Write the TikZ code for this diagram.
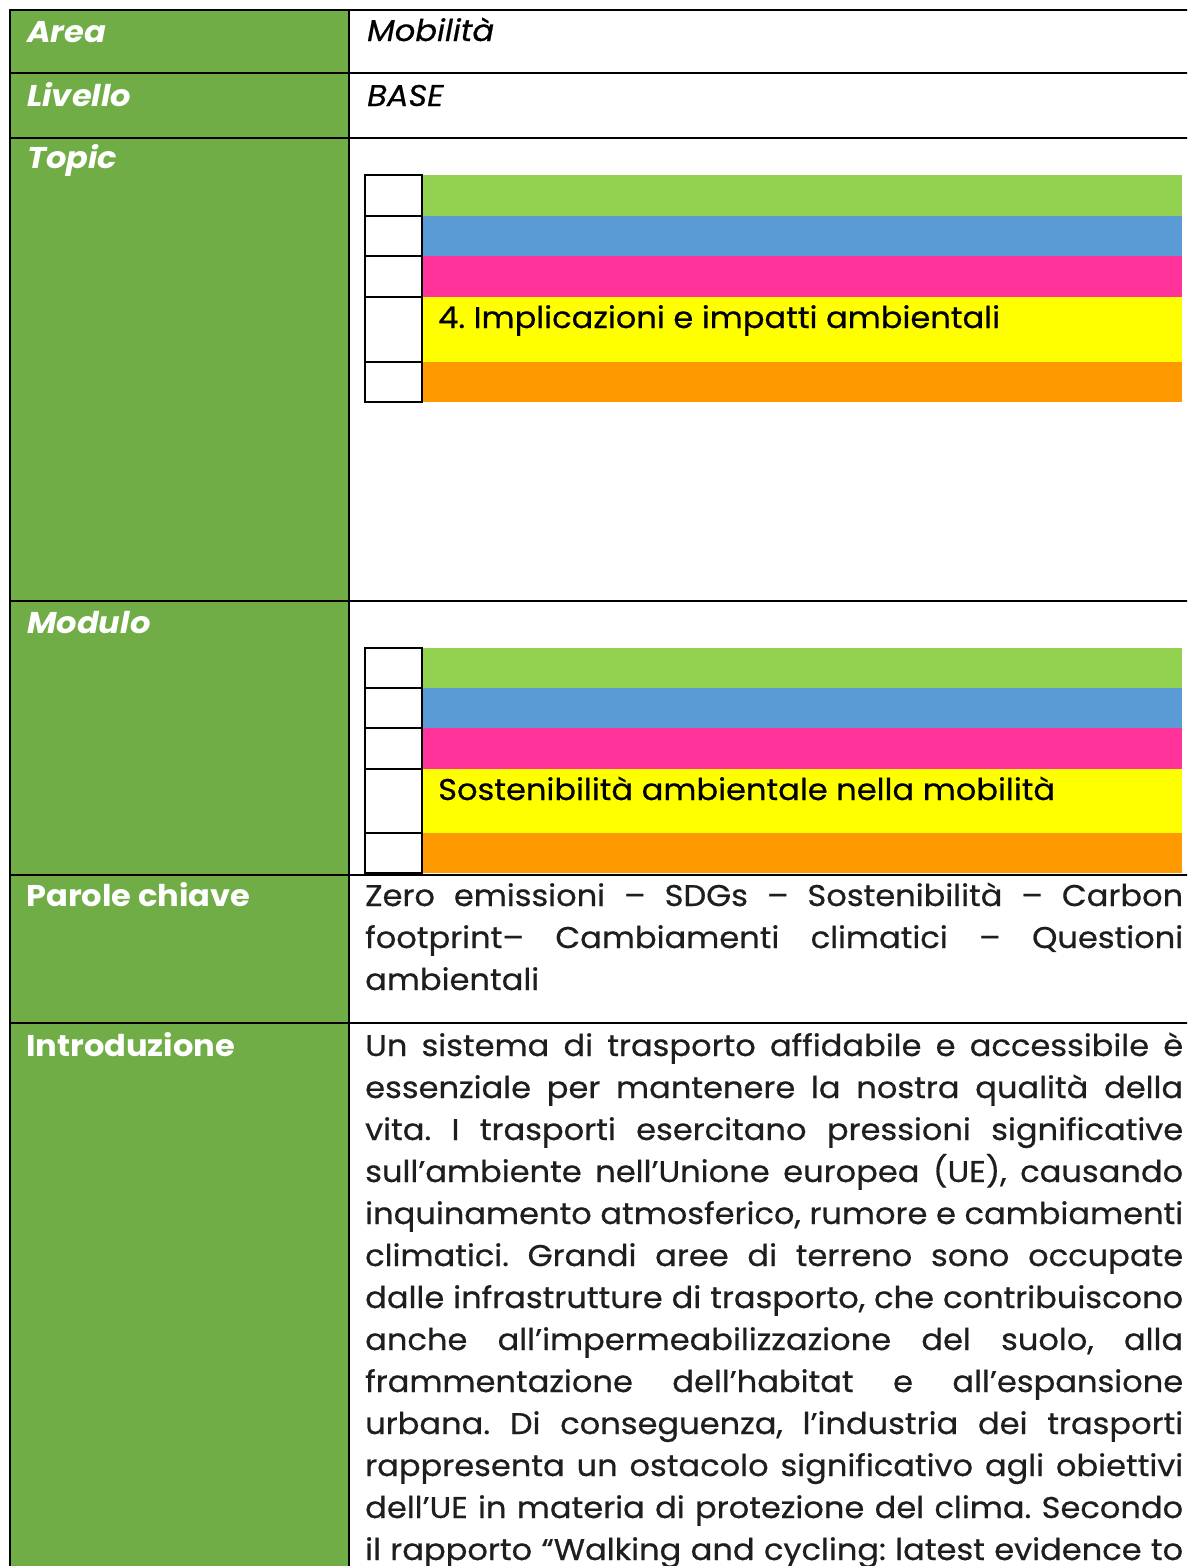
\documentclass[tikz,border=0pt]{standalone}
\usepackage{fontspec}
\setmainfont{Poppins}[FakeStretch=1.07]
\newfontfamily\bodyfont{Poppins}[FakeStretch=1.07, FakeBold=0.6]
\frenchspacing
\definecolor{cellgreen}{HTML}{70AD47}
\definecolor{barGreen}{HTML}{92D050}
\definecolor{barBlue}{HTML}{5B9BD5}
\definecolor{barPink}{HTML}{FF3399}
\definecolor{barYellow}{HTML}{FFFF00}
\definecolor{barOrange}{HTML}{FF9900}
\definecolor{bodytext}{HTML}{1E1E1E}
\tikzset{
  gridline/.style={line width=2pt, black},
  boxline/.style={line width=1.6pt, black},
  label/.style={anchor=base west, inner sep=0pt, text=white, font=\fontsize{30}{42}\selectfont\bfseries},
  ilabel/.style={label, font=\fontsize{30}{42}\selectfont\bfseries\itshape},
  ival/.style={anchor=base west, inner sep=0pt, text=black, font=\fontsize{30}{42}\selectfont\bodyfont\itshape},
  bartext/.style={anchor=base west, inner sep=0pt, text=black, font=\fontsize{30}{42}\selectfont\bodyfont},
  bodyline/.style={anchor=base west, inner sep=0pt, text=bodytext, font=\fontsize{30}{42}\selectfont\bodyfont},
}
\newcommand{\jline}[1]{\makebox[818pt][s]{#1}}
\begin{document}
\begin{tikzpicture}[x=1pt,y=-1pt]
\useasboundingbox (0,0) rectangle (1187,1566);
\clip (0,0) rectangle (1187,1566);
% green label column
\fill[cellgreen] (10,10) rectangle (349,1570);

% Topic bars
\fill[barGreen]  (422,175) rectangle (1182,216);
\fill[barBlue]   (422,216) rectangle (1182,256);
\fill[barPink]   (422,256) rectangle (1182,297);
\fill[barYellow] (422,297) rectangle (1182,362);
\fill[barOrange] (422,362) rectangle (1182,402);
\draw[boxline] (365,175) rectangle (422,402);
\draw[boxline] (365,216) -- (422,216) (365,256) -- (422,256) (365,297) -- (422,297) (365,362) -- (422,362);

% Modulo bars
\fill[barGreen]  (422,648) rectangle (1182,688);
\fill[barBlue]   (422,688) rectangle (1182,728);
\fill[barPink]   (422,728) rectangle (1182,769);
\fill[barYellow] (422,769) rectangle (1182,833);
\fill[barOrange] (422,833) rectangle (1182,873);
\draw[boxline] (365,648) rectangle (422,873);
\draw[boxline] (365,688) -- (422,688) (365,728) -- (422,728) (365,769) -- (422,769) (365,833) -- (422,833);

% table grid
\draw[gridline] (10,10) -- (1190,10);
\draw[gridline] (10,73) -- (1190,73);
\draw[gridline] (10,138) -- (1190,138);
\draw[gridline] (10,601) -- (1190,601);
\draw[gridline] (10,875) -- (1190,875);
\draw[gridline] (10,1023) -- (1190,1023);
\draw[gridline] (10,9) -- (10,1570);
\draw[gridline] (349,9) -- (349,1570);

% labels
\node[ilabel] (lArea) at (27,42) {Area};
\node[ilabel] (lLivello) at (27,106) {Livello};
\node[ilabel] (lTopic) at (27,168) {Topic};
\node[ilabel] (lModulo) at (27,633) {Modulo};
\node[label] (lParole) at (26,906) {Parole chiave};
\node[label] (lIntro) at (26,1056) {Introduzione};

% values
\node[ival] (vArea) at (367,41) {Mobilità};
\node[ival] (vLivello) at (367,106) {BASE};
\node[bartext] (vTopic) at (438,328) {4. Implicazioni e impatti ambientali};
\node[bartext] (vModulo) at (438,800) {Sostenibilità ambientale nella mobilità};

% keywords
\node[bodyline] (k1) at (365,906) {\jline{Zero emissioni – SDGs – Sostenibilità – Carbon}};
\node[bodyline] (k2) at (365,948) {\jline{footprint– Cambiamenti climatici – Questioni}};
\node[bodyline] (k3) at (365,990) {ambientali};

% introduction
\node[bodyline] (i1) at (365,1056) {\jline{Un sistema di trasporto affidabile e accessibile è}};
\node[bodyline] (i2) at (365,1098) {\jline{essenziale per mantenere la nostra qualità della}};
\node[bodyline] (i3) at (365,1140) {\jline{vita. I trasporti esercitano pressioni significative}};
\node[bodyline] (i4) at (365,1182) {\jline{sull’ambiente nell’Unione europea (UE), causando}};
\node[bodyline] (i5) at (365,1224) {\jline{inquinamento atmosferico, rumore e cambiamenti}};
\node[bodyline] (i6) at (365,1266) {\jline{climatici. Grandi aree di terreno sono occupate}};
\node[bodyline] (i7) at (365,1308) {\jline{dalle infrastrutture di trasporto, che contribuiscono}};
\node[bodyline] (i8) at (365,1350) {\jline{anche all’impermeabilizzazione del suolo, alla}};
\node[bodyline] (i9) at (365,1392) {\jline{frammentazione dell’habitat e all’espansione}};
\node[bodyline] (i10) at (365,1434) {\jline{urbana. Di conseguenza, l’industria dei trasporti}};
\node[bodyline] (i11) at (365,1476) {\jline{rappresenta un ostacolo significativo agli obiettivi}};
\node[bodyline] (i12) at (365,1518) {\jline{dell’UE in materia di protezione del clima. Secondo}};
\node[bodyline] (i13) at (365,1560) {\jline{il rapporto “Walking and cycling: latest evidence to}};
\end{tikzpicture}
\end{document}
